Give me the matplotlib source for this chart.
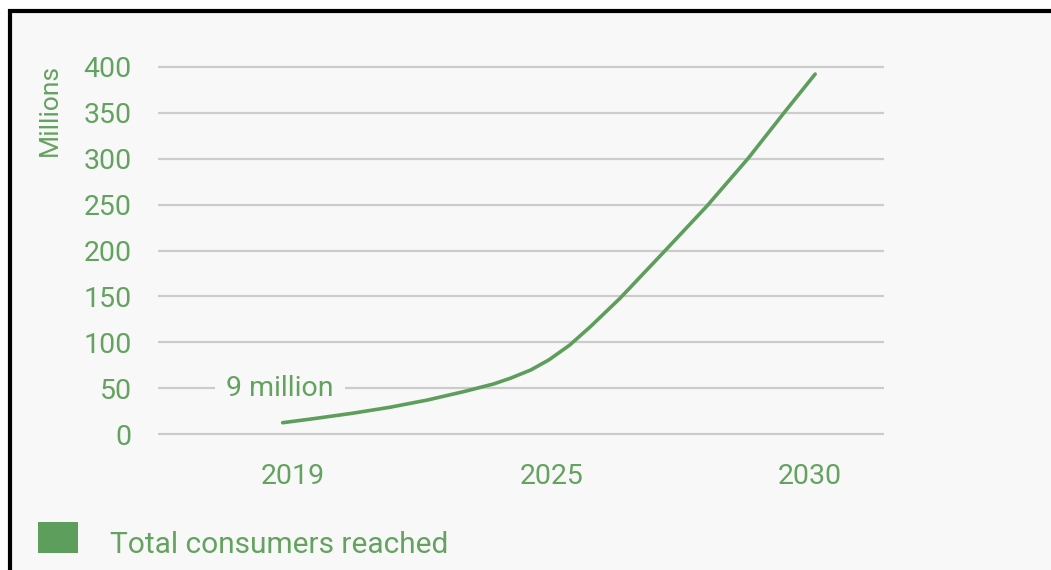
import matplotlib.pyplot as plt
from matplotlib.patches import Rectangle

plt.rcParams['font.family'] = ['Roboto', 'DejaVu Sans']

# categories on the x axis (evenly spaced, not to scale)
years = ['2019', '2025', '2030']
# curve: x in category units (0 = 2019, 1 = 2025, 2 = 2030), y in millions
curve_x = [-0.04, 0.09, 0.23, 0.375, 0.52, 0.66, 0.775, 0.84, 0.92, 0.99,
           1.07, 1.15, 1.265, 1.44, 1.60, 1.76, 1.90, 2.02]
curve_y = [12.6, 17.4, 22.9, 29.4, 37.3, 46.4, 54.7, 60.9, 70, 81,
           97, 117, 148, 200, 248, 300, 350, 392]
y_ticks = [0, 50, 100, 150, 200, 250, 300, 350, 400]
note_text = '9 million'
note_pos = (-0.05, 50)
legend_label = 'Total consumers reached'

green = '#5e9e5c'
text_green = '#64a25f'
bg = '#f8f8f8'

W, H = 1051, 570
fig = plt.figure(figsize=(W / 100, H / 100), dpi=100)
fig.patch.set_facecolor('white')

# panel with black frame (top and left edges visible)
fig.patches.append(Rectangle((10 / W, -0.05), 1.1, (H - 11) / H + 0.05,
                             transform=fig.transFigure, facecolor=bg,
                             edgecolor='black', linewidth=3, zorder=-10))

# axes placement in pixels
px_unit_x = 258.5
px_unit_y = 0.919
x0_px = 293
y0_px = 434.3
ax_left, ax_right = 158, 884
ylo, yhi = -5, 405
ax_bottom_px = y0_px - ylo * px_unit_y
ax_top_px = y0_px - yhi * px_unit_y
ax = fig.add_axes([ax_left / W, 1 - ax_bottom_px / H,
                   (ax_right - ax_left) / W, (ax_bottom_px - ax_top_px) / H])
ax.set_zorder(5)
ax.set_facecolor('none')
ax.set_xlim((ax_left - x0_px) / px_unit_x, (ax_right - x0_px) / px_unit_x)
ax.set_ylim(ylo, yhi)

for v in y_ticks:
    ax.axhline(v, color='#cccccc', linewidth=1.6, zorder=1)

ax.plot(curve_x, curve_y, color=green, linewidth=2.6, solid_capstyle='round',
        solid_joinstyle='round', zorder=3)

ax.text(note_pos[0], note_pos[1], note_text, ha='center', va='center',
        fontsize=20.5, color=text_green, zorder=2,
        bbox=dict(facecolor=bg, edgecolor='none', pad=8))

ax.set_xticks(range(len(years)))
ax.set_xticklabels(years)
ax.set_yticks(y_ticks)
ax.tick_params(axis='both', length=0, labelsize=20.5, labelcolor=text_green)
ax.tick_params(axis='y', pad=19)
ax.tick_params(axis='x', pad=17)
for s in ax.spines.values():
    s.set_visible(False)

fig.text(50 / W, 1 - 110 / H, 'Millions', rotation=90, ha='center', va='center',
         fontsize=19, color=text_green)

# legend entry
fig.patches.append(Rectangle((38 / W, 1 - 553 / H), 40 / W, 31 / H,
                             transform=fig.transFigure, facecolor=green,
                             edgecolor='none', zorder=2))
fig.text(110 / W, 1 - 553 / H, legend_label, ha='left', va='baseline',
         fontsize=21.5, color=text_green)

fig.savefig('out.png', dpi=100, facecolor=fig.get_facecolor())
